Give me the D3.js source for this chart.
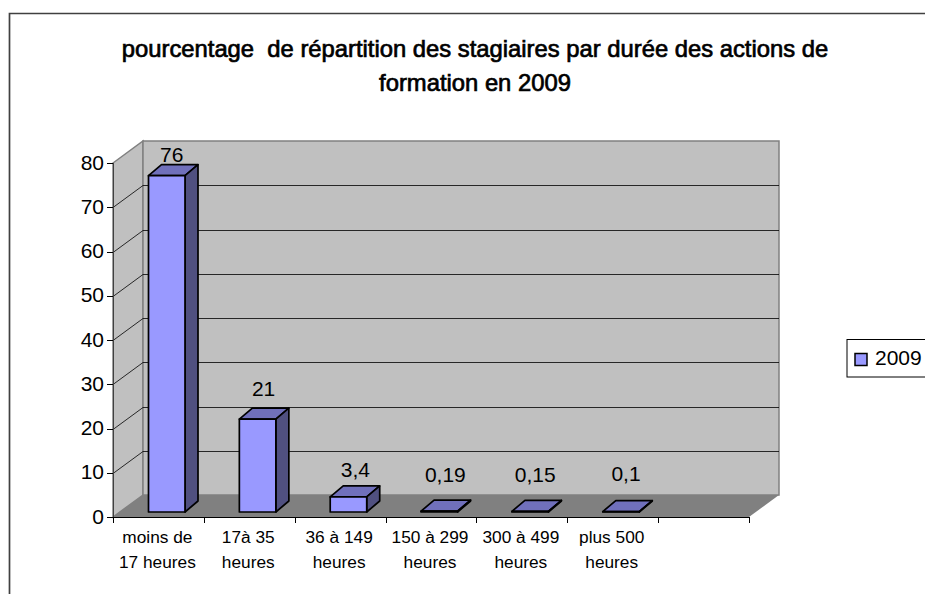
<!DOCTYPE html>
<html><head><meta charset="utf-8">
<script src="https://cdn.jsdelivr.net/npm/d3@7"></script>
<style>html,body{margin:0;padding:0;background:#fff}svg{display:block}text{font-family:"Liberation Sans",Arial,sans-serif;fill:#000}</style>
</head><body><svg id="c" width="925" height="594"></svg>
<script>
const categories = ["moins de|17 heures","17à 35|heures","36 à 149|heures","150 à 299|heures","300 à 499|heures","plus 500|heures",""];
const values = [76,21,3.4,0.19,0.15,0.1];
const valueLabels = ["76","21","3,4","0,19","0,15","0,1"];
const yTicks = [0,10,20,30,40,50,60,70,80];
const titleLines = ["pourcentage  de répartition des stagiaires par durée des actions de","formation en 2009"];
const seriesName = "2009";

const svg = d3.select("#c");
const x = d3.scaleBand().domain(categories.map((d,i)=>i)).range([113,749]);
const y = d3.scaleLinear().domain([0,80]).range([517,163]);
const dx = 30, dy = -22;                // full floor depth
const bdx0 = 6, bdy0 = -5, bdx = 13, bdy = -11; // bar offset and depth
const bw = 36.5, inset = 29.5;
const labelDx = [5,6,7,6,5,5], labelDy = [14,23,20,29,29,31];
const wallLine="#808080";

// frame
svg.append("path").attr("d","M9.5,594V13.5H925").attr("fill","none").attr("stroke","#404040").attr("stroke-width",1.7);

// title
svg.append("g").selectAll("text").data(titleLines).join("text")
  .attr("x",475).attr("y",(d,i)=>56.5+i*34).attr("text-anchor","middle")
  .attr("font-size",23.8).attr("stroke","#000").attr("stroke-width",.7)
  .style("white-space","pre").text(d=>d);

// walls
const yt=y(80), y0=y(0), xl=x.range()[0], xr=x.range()[1];
svg.append("path").attr("d",`M${xl},${yt}L${xl+dx},${yt+dy}V${y0+dy}L${xl},${y0}Z`).attr("fill","#c0c0c0").attr("stroke",wallLine).attr("stroke-width",1.5);
svg.append("rect").attr("x",xl+dx).attr("y",yt+dy).attr("width",xr-xl).attr("height",y0-yt).attr("fill","#c0c0c0").attr("stroke",wallLine).attr("stroke-width",1.5);
svg.append("path").attr("d",`M${xl},${y0}L${xl+dx},${y0+dy}H${xr+dx}L${xr},${y0}Z`).attr("fill","#808080");

// gridlines
const grid=svg.append("g").attr("fill","none").attr("stroke","#000").attr("stroke-width",1);
yTicks.filter(t=>t>0&&t<80).forEach(t=>{
  const p=Math.round(y(t))+.5;
  grid.append("path").attr("d",`M${xl},${p}L${xl+dx},${p+dy}H${xr+dx}`).attr("stroke-opacity",.8);
});

// axes
const axisY=svg.append("g").attr("stroke","#000");
axisY.append("path").attr("d",`M${xl+.5},${yt}V${y0+6}`).attr("fill","none").attr("stroke","#404040");
axisY.append("path").attr("d",`M${xl},${y0+.5}H${xr}`).attr("fill","none").attr("stroke","#000");
axisY.selectAll("line.t").data(yTicks).join("line").attr("x1",xl-6).attr("x2",xl)
  .attr("y1",d=>Math.round(y(d))+.5).attr("y2",d=>Math.round(y(d))+.5);
axisY.selectAll("text").data(yTicks).join("text").attr("x",xl-9).attr("y",d=>y(d)+6.5)
  .attr("text-anchor","end").attr("font-size",21).attr("stroke","none").text(d=>d);
const xTicks=d3.range(8).map(i=>i<7?x(i):xr);
svg.append("g").attr("stroke","#000").selectAll("line").data(xTicks).join("line")
  .attr("x1",d=>Math.round(d)+.5).attr("x2",d=>Math.round(d)+.5).attr("y1",y0).attr("y2",y0+6);
const labels=svg.append("g");
categories.forEach((c,i)=>{
  c.split("|").filter(s=>s).forEach((s,j)=>{
    labels.append("text").attr("x",x(i)+x.bandwidth()/2-1).attr("y",543+j*24.5).attr("text-anchor","middle").attr("font-size",17.3).text(s);
  });
});

// bars
const bars=svg.append("g").attr("stroke","#000").attr("stroke-width",1.7).attr("stroke-linejoin","round");
values.forEach((v,i)=>{
  const l=x(i)+inset+bdx0, r=l+bw, b=y(0)+bdy0, t=b-(y(0)-y(v));
  bars.append("path").attr("d",`M${l},${t}L${l+bdx},${t+bdy}H${r+bdx}L${r},${t}Z`).attr("fill","#7070bb");
  bars.append("path").attr("d",`M${r},${t}L${r+bdx},${t+bdy}V${b+bdy}L${r},${b}Z`).attr("fill","#505080");
  bars.append("rect").attr("x",l).attr("y",t).attr("width",bw).attr("height",b-t).attr("fill","#9999ff");
  svg.append("text").attr("x",l+bw/2+labelDx[i]).attr("y",t-labelDy[i]).attr("text-anchor","middle").attr("font-size",21).text(valueLabels[i]);
});

// legend
svg.append("rect").attr("x",847).attr("y",339.5).attr("width",80).attr("height",37.5).attr("fill","#fff").attr("stroke","#000");
svg.append("rect").attr("x",855).attr("y",353.5).attr("width",12).attr("height",12).attr("fill","#9999ff").attr("stroke","#000").attr("stroke-width",1.5);
svg.append("text").attr("x",875).attr("y",365).attr("font-size",21).text(seriesName);
</script></body></html>
